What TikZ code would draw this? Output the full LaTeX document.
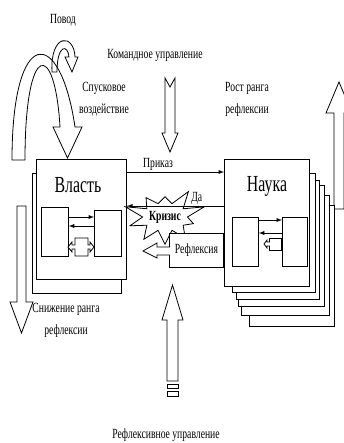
\documentclass[tikz,border=0pt]{standalone}
\usepackage{fontspec}
\setmainfont[FakeStretch=0.69]{Liberation Serif}
\usetikzlibrary{calc,arrows,shapes,shapes.symbols,positioning}
\tikzset{
  box/.style={rectangle, draw=black, fill=white, line width=1pt, inner sep=0pt},
  inbox/.style={rectangle, draw=black, fill=white, line width=0.8pt, inner sep=0pt},
  txt/.style={font=\fontsize{14}{22}\selectfont, inner sep=1pt, align=center},
  ttl/.style={font=\fontsize{23}{26}\selectfont, inner sep=0pt},
  line/.style={draw, line width=0.9pt, ->, >=latex},
  hollow/.style={draw=black, fill=white, line width=0.8pt, line join=miter},
  harr/.style={draw=black, line width=0.8pt},
  crisis/.style={starburst, starburst points=10, starburst point height=20pt, random starburst=3, draw=black, fill=white, line width=0.8pt, inner sep=0pt, minimum width=70pt, minimum height=68pt, font=\bfseries\fontsize{14}{16}\selectfont},
}
\begin{document}
\begin{tikzpicture}[x=1pt,y=-1pt]
  \useasboundingbox (0,0) rectangle (343,443);

  % curved arrows (trigger)
  \path[harr] (52,72) .. controls (50,33) and (74,33) .. (75,57) -- (78,57) -- (72,72) -- (65,57) -- (69,57) .. controls (68,44) and (57,44) .. (57,72) -- cycle;
  \path[harr] (12,160) .. controls (12,25) and (60,25) .. (75,127) -- (82,127) -- (67.5,158) -- (53,127) -- (60,127) .. controls (55,40) and (25,40) .. (25,160) -- cycle;

  % block arrows
  \draw[hollow] (165,78) -- (170,87) -- (175,78) -- (175,133) -- (178,133) -- (170,152) -- (162,133) -- (165,133) -- cycle;
  \draw[hollow] (167,381) -- (167,320) -- (162,320) -- (172.5,285) -- (183,320) -- (178,320) -- (178,381) -- cycle;
  \draw[hollow] (167,384) rectangle (178,388);
  \draw[hollow] (167,391) rectangle (178,396);
  \draw[hollow] (17,206) -- (26,206) -- (26,302) -- (33,302) -- (21.5,333) -- (10,302) -- (17,302) -- cycle;
  \draw[hollow] (334,209) -- (334,113) -- (326,113) -- (339,82) -- (352,113) -- (344,113) -- (344,209) -- cycle;

  % Vlast
  \node[box, minimum width=89pt, minimum height=120pt, anchor=north west] (vlastb) at (32,173) {};
  \node[box, minimum width=90pt, minimum height=120pt, anchor=north west] (vlast) at (36,159) {};
  \node[ttl] (vlastt) at (78,185) {Власть};
  \node[inbox, minimum width=27pt, minimum height=49pt, anchor=north west] (vl1) at (41,207) {};
  \node[inbox, minimum width=27pt, minimum height=46pt, anchor=north west] (vl2) at (94,210) {};
  \path[line] ([yshift=-10pt]vl1.north east) -- ([yshift=-7pt]vl2.north west);
  \path[line] ([yshift=-16pt]vl2.north west) -- ([yshift=-19pt]vl1.north east);
  \draw[hollow] (68,247) -- (72,242) -- (72,245) -- (75,245) -- (75,238) -- (88,238) -- (88,245) -- (90,245) -- (90,242) -- (94,247) -- (90,252) -- (90,249) -- (88,249) -- (88,256) -- (75,256) -- (75,249) -- (72,249) -- (72,252) -- cycle;

  % Nauka
  \foreach \x/\y/\w/\h [count=\i] in {249/205/85/121, 241/195/88/120, 238/185/86/121, 236/180/83/119, 232/173/83/119}
    \node[box, minimum width=\w pt, minimum height=\h pt, anchor=north west] (naukab\i) at (\x,\y) {};
  \node[box, minimum width=85pt, minimum height=127pt, anchor=north west] (nauka) at (224,159) {};
  \node[ttl] (naukat) at (267,186) {Наука};
  \node[inbox, minimum width=26pt, minimum height=49pt, anchor=north west] (na1) at (232,217) {};
  \node[inbox, minimum width=25pt, minimum height=49pt, anchor=north west] (na2) at (282,217) {};
  \node[inbox, minimum width=12pt, minimum height=12pt, anchor=north east] (na3) at (282,238) {};
  \path[line] ([yshift=-3pt]na1.north east) -- ([yshift=-3pt]na2.north west);
  \path[line] ([yshift=-16pt]na2.north west) -- ([yshift=-16pt]na1.north east);
  \draw[hollow] (270,242) -- (267,242) -- (267,240) -- (264,244) -- (267,248) -- (267,246) -- (270,246);

  % crisis
  \node[crisis] (kriz) at (165,217) {Кризис};

  % links
  \path[line] ([yshift=-13pt]vlast.north east) -- ([yshift=-13pt]nauka.north west)
    node[txt, pos=0.32, above] (prikaz) {Приказ};
  \path[line] ([yshift=-47pt]nauka.north west) -- ([yshift=-47pt]vlast.north east)
    node[txt, pos=0.28, above] (da) {Да};
  \node[box, txt, minimum width=54pt, minimum height=34pt, anchor=north east] (refl) at (224,233) {Рефлексия};
  \draw[hollow] (170,247) -- (157,247) -- (157,243) -- (143,251) -- (157,258) -- (157,255) -- (170,255);

  % texts
  \node[txt] (povod) at (63,20) {Повод};
  \node[txt] (komupr) at (155,55) {Командное управление};
  \node[txt] (spusk) at (104,99) {Спусковое\\воздействие};
  \node[txt] (rost) at (247,99) {Рост ранга\\рефлексии};
  \node[txt] (sniz) at (66,320) {Снижение ранга\\рефлексии};
  \node[txt] (refupr) at (166,435) {Рефлексивное управление};
\end{tikzpicture}
\end{document}
